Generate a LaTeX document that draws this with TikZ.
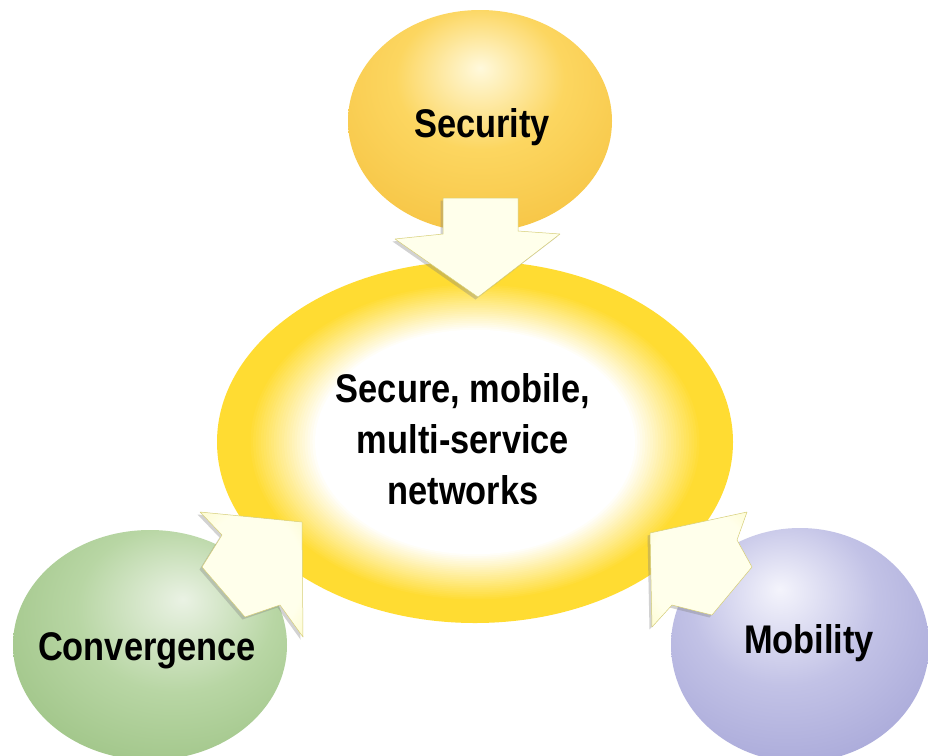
\documentclass[tikz,border=0pt]{standalone}
\usepackage{fontspec}
\setmainfont[FakeStretch=0.86]{Liberation Sans}
\usetikzlibrary{shadows}

\definecolor{secA}{RGB}{255,249,220}
\definecolor{secB}{RGB}{252,214,96}
\definecolor{secC}{RGB}{240,176,36}
\definecolor{ringY}{RGB}{255,220,50}
\definecolor{grA}{RGB}{234,242,228}
\definecolor{grB}{RGB}{184,214,164}
\definecolor{grC}{RGB}{122,170,92}
\definecolor{puA}{RGB}{244,244,252}
\definecolor{puB}{RGB}{194,194,230}
\definecolor{puC}{RGB}{132,132,198}
\definecolor{arrA}{RGB}{255,255,235}
\definecolor{arrB}{RGB}{250,244,160}
\definecolor{arrE}{RGB}{214,206,120}

\pgfdeclareradialshading{secshade}{\pgfpoint{0bp}{12bp}}{color(0bp)=(secA); color(16bp)=(secB); color(56bp)=(secC); color(80bp)=(secC)}
\pgfdeclareradialshading{convshade}{\pgfpoint{6bp}{10bp}}{color(0bp)=(grA); color(18bp)=(grB); color(60bp)=(grC); color(80bp)=(grC)}
\pgfdeclareradialshading{mobshade}{\pgfpoint{-4bp}{12bp}}{color(0bp)=(puA); color(18bp)=(puB); color(60bp)=(puC); color(80bp)=(puC)}
\pgfdeclareradialshading{arrowshade}{\pgfpoint{0bp}{0bp}}{color(0bp)=(arrA); color(25bp)=(arrA); color(55bp)=(arrB); color(80bp)=(arrB)}

\begin{document}
\begin{tikzpicture}[x=1pt, y=-1pt,
	txt/.style={font=\fontsize{40}{51}\selectfont\bfseries, anchor=base, inner sep=0pt},
	arrowbox/.style={shading=arrowshade, draw=arrE, line width=0.5pt, line join=round,
		drop shadow={opacity=0.35, shadow xshift=-2.5pt, shadow yshift=-2.5pt}}]
	\fill[white] (0,0) rectangle (928,755); % weisser Hintergrund
	\useasboundingbox (0,0) rectangle (928,755);
	
	% Kugeln
	\shade[shading=secshade] (480,121) ellipse [x radius=132, y radius=111];
	\shade[shading=convshade] (150,645) ellipse [x radius=137, y radius=115];
	\shade[shading=mobshade] (800,645) ellipse [x radius=129, y radius=117];
	
	% Ring in der Mitte (gelber Rand, nach innen weiss)
	\fill[ringY] (475,442) ellipse [x radius=258, y radius=181];
	\foreach \k in {0,...,26}{
		\pgfmathsetmacro\s{0.88-0.01*\k}
		\pgfmathsetmacro\p{100-100*\k/26}
		\fill[ringY!\p!white] (475,442) ellipse [x radius=258*\s, y radius=181*\s];
	}
	
	% Pfeile
	\shade[arrowbox] (443,198) -- (443,234) -- (395,239) -- (478,297) -- (560,234) -- (518,231) -- (518,198) -- cycle;
	\shade[arrowbox] (202,567) -- (222,535) -- (200,512) -- (302,522) -- (303,637) -- (280,605) -- (245,617) -- cycle;
	\shade[arrowbox] (752,567) -- (737,540) -- (747,512) -- (650,533) -- (652,627) -- (672,605) -- (712,615) -- cycle;
	
	\node[txt] (security) at (482,137) {Security};
	\node[txt] (convergence) at (147,660) {Convergence};
	\node[txt] (mobility) at (809,653) {Mobility};
	\node[txt, anchor=center, align=center] (networks) at (463,439) {Secure, mobile,\\multi-service\\networks};
	
	%\draw[help lines, step=50] (0,0) grid (928,755);
\end{tikzpicture}
\end{document}
